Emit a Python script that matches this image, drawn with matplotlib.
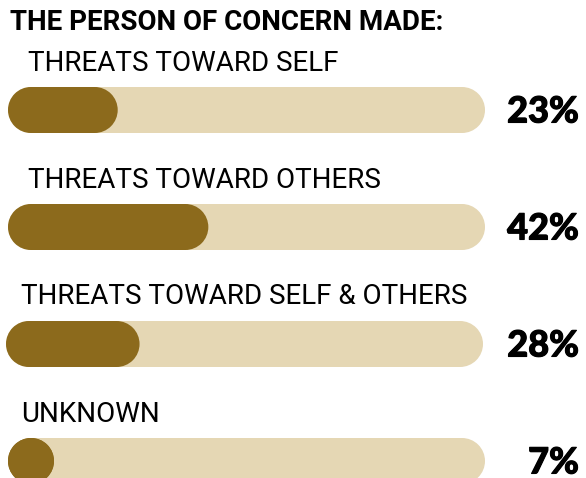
import matplotlib
matplotlib.use("Agg")
import matplotlib.pyplot as plt
import matplotlib.patheffects as pe
from matplotlib.patches import Circle, Rectangle

title = "THE PERSON OF CONCERN MADE:"
categories = ["THREATS TOWARD SELF", "THREATS TOWARD OTHERS",
              "THREATS TOWARD SELF & OTHERS", "UNKNOWN"]
values = [23, 42, 28, 7]

# layout in pixels (y grows downward)
label_x = [28, 28, 21, 21]
bar_x = [8, 8, 6, 8]
bar_w = 477
bar_h = 46
row_top = 87
row_step = 117

track_color = "#E5D7B4"
fill_color = "#8C6A1C"


def pill(ax, x, y, w, h, color):
    # rounded bar: rectangle with two half circles
    r = h / 2
    w = max(w, h)
    ax.add_patch(Rectangle((x + r, y), w - h, h, fc=color, ec="none"))
    ax.add_patch(Circle((x + r, y + r), r, fc=color, ec="none"))
    ax.add_patch(Circle((x + w - r, y + r), r, fc=color, ec="none"))


fig = plt.figure(figsize=(5.86, 4.78), dpi=100)
ax = fig.add_axes([0, 0, 1, 1])
ax.set_xlim(0, 586)
ax.set_ylim(478, 0)
ax.axis("off")

ax.text(10, 22, title, fontsize=20, fontweight="bold", family="Roboto",
        va="center", ha="left", color="black")

for i, (cat, val) in enumerate(zip(categories, values)):
    y0 = row_top + i * row_step
    ax.text(label_x[i], y0 - 24, cat, fontsize=20, family="Roboto",
            va="center", ha="left", color="black")
    pill(ax, bar_x[i], y0, bar_w, bar_h, track_color)
    pill(ax, bar_x[i], y0, bar_w * val / 100, bar_h, fill_color)
    ax.text(579, y0 + bar_h / 2 + 2, "{}%".format(val), fontsize=26,
            fontweight="black", family="Lato", va="center", ha="right",
            color="black",
            path_effects=[pe.withStroke(linewidth=0.8, foreground="black")])

fig.savefig("out.png", dpi=100)
